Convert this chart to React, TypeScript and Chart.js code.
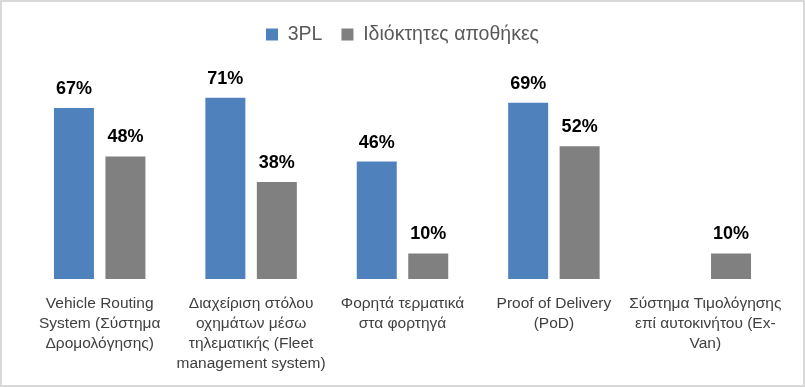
import React, { useEffect, useRef } from "react";
import { Chart, registerables } from "chart.js";

Chart.register(...registerables);

const categories: string[][] = [
  ["Vehicle Routing", "System (Σύστημα", "Δρομολόγησης)"],
  ["Διαχείριση στόλου", "οχημάτων μέσω", "τηλεματικής (Fleet", "management system)"],
  ["Φορητά τερματικά", "στα φορτηγά"],
  ["Proof of Delivery", "(PoD)"],
  ["Σύστημα Τιμολόγησης", "επί αυτοκινήτου (Ex-", "Van)"],
];
const series3PL: (number | null)[] = [67, 71, 46, 69, null];
const seriesOwn: (number | null)[] = [48, 38, 10, 52, 10];
const seriesNames = ["3PL", "Ιδιόκτητες αποθήκες"];

const FONT = "'Liberation Sans', Arial, sans-serif";

const valueLabels = {
  id: "valueLabels",
  afterDatasetsDraw(chart: any) {
    const ctx = chart.ctx;
    ctx.save();
    ctx.font = `bold 18px ${FONT}`;
    ctx.fillStyle = "#000000";
    ctx.textAlign = "center";
    ctx.textBaseline = "alphabetic";
    chart.data.datasets.forEach((ds: any, di: number) => {
      const meta = chart.getDatasetMeta(di);
      meta.data.forEach((el: any, i: number) => {
        const v = ds.data[i];
        if (v === null || v === undefined) return;
        ctx.fillText(`${v}%`, el.x, el.y - 14);
      });
    });
    ctx.restore();
  },
};

export default function App() {
  const ref = useRef<HTMLCanvasElement>(null);
  useEffect(() => {
    const chart = new Chart(ref.current!, {
      type: "bar",
      data: {
        labels: categories,
        datasets: [
          {
            label: seriesNames[0],
            data: series3PL,
            backgroundColor: "#4F81BD",
            categoryPercentage: 0.68,
            barPercentage: 0.777,
          },
          {
            label: seriesNames[1],
            data: seriesOwn,
            backgroundColor: "#808080",
            categoryPercentage: 0.68,
            barPercentage: 0.777,
          },
        ],
      },
      options: {
        animation: false,
        responsive: false,
        layout: { padding: { left: 22, right: 22, top: 3.8, bottom: -4 } },
        plugins: {
          legend: {
            position: "top",
            labels: {
              boxWidth: 12,
              boxHeight: 12,
              padding: 19,
              color: "#595959",
              font: { family: FONT, size: 19.5 },
            },
          },
          tooltip: { enabled: false },
        },
        scales: {
          x: {
            grid: { display: false, drawTicks: false },
            border: { display: false },
            ticks: {
              color: "#404040",
              font: { family: FONT, size: 15.5, lineHeight: "20px" },
              padding: 15,
              maxRotation: 0,
              autoSkip: false,
            },
          },
          y: {
            display: false,
            min: 0,
            max: 88,
          },
        },
      },
      plugins: [valueLabels],
    });
    return () => chart.destroy();
  }, []);
  return (
    <div
      style={{
        position: "fixed",
        left: 0,
        top: 0,
        width: 805,
        height: 387,
        boxSizing: "border-box",
        border: "2px solid #d9d9d9",
        background: "#ffffff",
      }}
    >
      <canvas ref={ref} width={801} height={383} style={{ display: "block" }} />
    </div>
  );
}
